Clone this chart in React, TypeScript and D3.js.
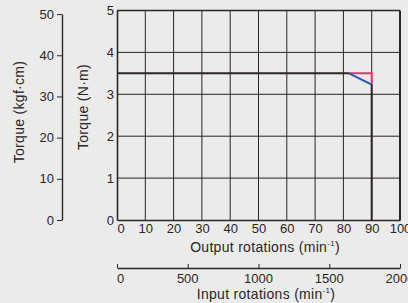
import React, { useRef, useEffect } from 'react'
import * as d3 from 'd3'

// torque curve values (output rotations min-1, torque N·m)
const blackFlat = [[0, 3.5], [82, 3.5]]
const redLine = [[82, 3.5], [90, 3.5], [90, 3.23]]
const blueLine = [[82, 3.5], [90, 3.23]]
const blackDrop = [[90, 3.23], [90, 0]]

const outputTicks = [0, 10, 20, 30, 40, 50, 60, 70, 80, 90, 100]
const nmTicks = [0, 1, 2, 3, 4, 5]
const kgfTicks = [0, 10, 20, 30, 40, 50]
const inputTicks = [0, 500, 1000, 1500, 2000]

const App = () => {
    const visEl = useRef(null)
    const width = 408
    const height = 303

    useEffect(() => {
        const root = d3.select(visEl.current)
        root.selectAll('*').remove()
        const svg = root.append('svg')
            .attr('width', width)
            .attr('height', height)
            .style('display', 'block')
            .style('background', '#ebebeb')

        const narrow = "'Liberation Sans Narrow', 'Arial Narrow', 'Liberation Sans', sans-serif"
        const sans = "'Liberation Sans', Arial, sans-serif"
        const ink = '#2b2523'
        const fmt = d3.format('d')

        const x = d3.scaleLinear().domain([0, 100]).range([117, 400])
        const y = d3.scaleLinear().domain([0, 5]).range([220, 10.5])
        const yk = d3.scaleLinear().domain([0, 50]).range([220, 220 - 50 * 42 / 10.197])
        const xi = d3.scaleLinear().domain([0, 2000]).range([117, 400])

        // grid
        svg.append('g').selectAll('line').data(outputTicks.slice(1)).enter().append('line')
            .attr('x1', d => x(d)).attr('x2', d => x(d))
            .attr('y1', y(0)).attr('y2', y(5))
            .attr('stroke', ink).attr('stroke-width', d => d === 100 ? 2 : 1)
        svg.append('g').selectAll('line').data(nmTicks.slice(1)).enter().append('line')
            .attr('x1', x(0)).attr('x2', x(100))
            .attr('y1', d => y(d)).attr('y2', d => y(d))
            .attr('stroke', ink).attr('stroke-width', d => d === 5 ? 1.6 : 1)

        // N·m axis
        const yAxis = svg.append('g')
            .attr('transform', `translate(${x(0)},0)`)
            .call(d3.axisLeft(y).tickValues(nmTicks).tickFormat(fmt).tickSize(0).tickPadding(3))
        yAxis.select('.domain').attr('stroke', ink).attr('stroke-width', 1.6)
        yAxis.selectAll('text').attr('font-family', narrow).attr('font-size', 13).attr('fill', ink)

        // output rotations axis
        const xAxis = svg.append('g')
            .attr('transform', `translate(0,${y(0)})`)
            .call(d3.axisBottom(x).tickValues(outputTicks).tickFormat(fmt).tickSize(0).tickPadding(4))
        xAxis.select('.domain').attr('stroke', ink).attr('stroke-width', 1.6)
        xAxis.selectAll('text').attr('font-family', narrow).attr('font-size', 13).attr('fill', ink)
            .attr('text-anchor', d => d === 0 ? 'start' : 'middle')

        // kgf·cm axis
        const kAxis = svg.append('g')
            .attr('transform', 'translate(62,0)')
            .call(d3.axisLeft(yk).tickValues(kgfTicks).tickFormat(fmt).tickSize(5).tickPadding(3).tickSizeOuter(0))
        kAxis.select('.domain').attr('stroke', ink).attr('stroke-width', 1.4)
        kAxis.selectAll('.tick line').attr('stroke', ink)
        kAxis.selectAll('text').attr('font-family', narrow).attr('font-size', 13).attr('fill', ink)

        // input rotations axis
        const iAxis = svg.append('g')
            .attr('transform', 'translate(0,268)')
            .call(d3.axisTop(xi).tickValues(inputTicks).tickSize(4).tickSizeOuter(0).tickFormat(() => ''))
        iAxis.select('.domain').attr('stroke', ink).attr('stroke-width', 1.4)
        iAxis.selectAll('.tick line').attr('stroke', ink)
        svg.append('g').selectAll('text').data(inputTicks).enter().append('text')
            .attr('x', d => xi(d)).attr('y', 283)
            .attr('text-anchor', d => d === 0 ? 'start' : 'middle')
            .attr('font-family', narrow).attr('font-size', 13).attr('fill', ink)
            .text(d => fmt(d))

        // curves
        const line = d3.line().x(d => x(d[0])).y(d => y(d[1]))
        svg.append('path').attr('d', line(redLine)).attr('fill', 'none')
            .attr('stroke', '#e8336b').attr('stroke-width', 2)
        svg.append('path').attr('d', line(blueLine)).attr('fill', 'none')
            .attr('stroke', '#1a5fb0').attr('stroke-width', 2)
        svg.append('path').attr('d', line(blackFlat)).attr('fill', 'none')
            .attr('stroke', ink).attr('stroke-width', 2)
        svg.append('path').attr('d', line(blackDrop)).attr('fill', 'none')
            .attr('stroke', ink).attr('stroke-width', 2)

        // axis titles
        const title = (tx, ty, rot) => svg.append('text')
            .attr('transform', `translate(${tx},${ty}) rotate(${rot})`)
            .attr('text-anchor', 'middle')
            .attr('font-family', sans).attr('font-size', 14).attr('letter-spacing', 0.3).attr('fill', ink)
        title(24, 112, -90).text('Torque (kgf·cm)')
        title(88, 107, -90).text('Torque (N·m)')
        const out = title(265, 252, 0)
        out.append('tspan').text('Output rotations (min')
        out.append('tspan').attr('font-size', 8).attr('dy', -6).text('-1')
        out.append('tspan').attr('dy', 6).text(')')
        const inp = title(266, 299, 0)
        inp.append('tspan').text('Input rotations (min')
        inp.append('tspan').attr('font-size', 8).attr('dy', -6).text('-1')
        inp.append('tspan').attr('dy', 6).text(')')
    }, [])

    return (
        <div style={{ position: 'absolute', left: 0, top: 0 }}>
            <div ref={visEl}></div>
        </div>
    )
}

export default App
